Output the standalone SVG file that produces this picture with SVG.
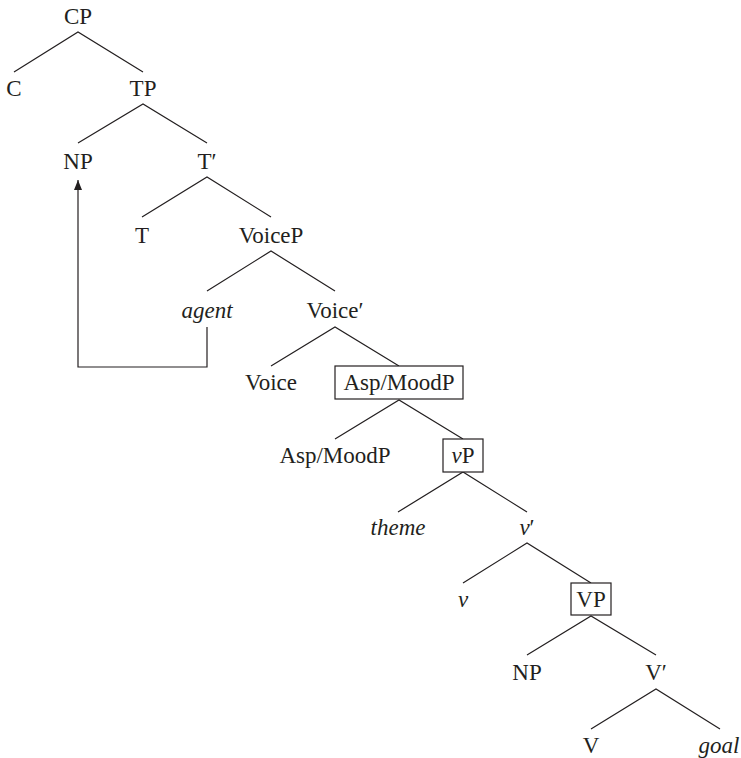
<svg xmlns="http://www.w3.org/2000/svg" width="741" height="758" viewBox="0 0 741 758">
<style>
text{font-family:"Liberation Serif","Times New Roman",serif;font-size:23px;fill:#231f20;text-anchor:middle}
.i{font-style:italic}
.e{stroke:#231f20;stroke-width:1.2;fill:none}
.b{stroke:#231f20;stroke-width:1.2;fill:#fff}
</style>
<defs>
<marker id="ah" viewBox="0 0 10 8" refX="10" refY="4" markerWidth="10" markerHeight="8" markerUnits="userSpaceOnUse" orient="auto"><path d="M0,0 L10,4 L0,8 z" fill="#231f20"/></marker>
</defs>
<rect width="741" height="758" fill="#fff"/>
<g id="connectors" class="e">
<path d="M14,72 L78,32 L143,72"/>
<path d="M78,143 L143,104 L207,143"/>
<path d="M142,217 L207,177 L271,217"/>
<path d="M207,291 L271,251 L335,291"/>
<path d="M271,366 L335,327 L399,366"/>
<path d="M335,439 L399,400 L463,439"/>
<path d="M398,512 L463,472 L527,512"/>
<path d="M463,583 L527,543 L591,583"/>
<path d="M527,655 L591,616 L656,655"/>
<path d="M591,729 L656,689 L720,729"/>
<path d="M207,327 L207,367 L78,367 L78,180" marker-end="url(#ah)"/>
</g>
<g id="n-CP"><text x="78" y="24">CP</text></g>
<g id="n-C"><text x="14" y="96">C</text></g>
<g id="n-TP"><text x="143" y="96">TP</text></g>
<g id="n-NP1"><text x="78" y="169">NP</text></g>
<g id="n-Tbar"><text x="207" y="169">T′</text></g>
<g id="n-T"><text x="142" y="243">T</text></g>
<g id="n-VoiceP"><text x="271" y="243">VoiceP</text></g>
<g id="n-agent"><text class="i" x="207" y="318">agent</text></g>
<g id="n-Voicebar"><text x="335" y="318">Voice′</text></g>
<g id="n-Voice"><text x="271" y="390">Voice</text></g>
<g id="n-AspMoodP1"><rect class="b" x="335" y="366" width="128" height="33"/><text x="399" y="390">Asp/MoodP</text></g>
<g id="n-AspMoodP2"><text x="335" y="463">Asp/MoodP</text></g>
<g id="n-vP"><rect class="b" x="443" y="439" width="40" height="33"/><text x="463" y="463"><tspan class="i">v</tspan>P</text></g>
<g id="n-theme"><text class="i" x="398" y="535">theme</text></g>
<g id="n-vbar"><text x="527" y="535"><tspan class="i">v</tspan>′</text></g>
<g id="n-v"><text class="i" x="463" y="607">v</text></g>
<g id="n-VP"><rect class="b" x="571" y="583" width="40" height="32"/><text x="591" y="607">VP</text></g>
<g id="n-NP2"><text x="527" y="680">NP</text></g>
<g id="n-Vbar"><text x="656" y="680">V′</text></g>
<g id="n-V"><text x="591" y="753">V</text></g>
<g id="n-goal"><text class="i" x="719" y="753">goal</text></g>
</svg>
